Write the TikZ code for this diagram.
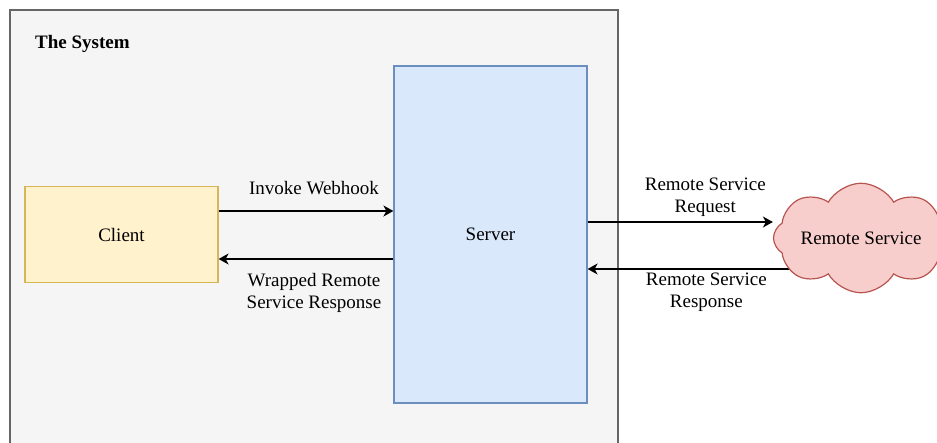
\documentclass[tikz,border=0pt]{standalone}
\usepackage{fontspec}
\setmainfont{Liberation Serif}
\usetikzlibrary{arrows.meta,shapes.symbols,backgrounds}

\definecolor{sysfill}{HTML}{F5F5F5}
\definecolor{sysline}{HTML}{666666}
\definecolor{clifill}{HTML}{FFF2CC}
\definecolor{cliline}{HTML}{D6B656}
\definecolor{srvfill}{HTML}{DAE8FC}
\definecolor{srvline}{HTML}{6C8EBF}
\definecolor{rsfill}{HTML}{F8CECC}
\definecolor{rsline}{HTML}{B85450}

\begin{document}
\begin{tikzpicture}[x=1pt,y=-1pt,
		txt/.style={font=\fontsize{19}{22}\selectfont, align=center, inner sep=0pt},
		box/.style={draw, line width=1.2pt, txt},
		flow/.style={line width=1.6pt, -{Stealth[length=10pt,width=11pt,inset=3pt]}}]
		\useasboundingbox (0,0) rectangle (937,442);
		\node[box, fill=clifill, draw=cliline, minimum width=193pt, minimum height=96pt] (cli) at (121.5,234.5) {Client};
		\node[box, fill=srvfill, draw=srvline, minimum width=193pt, minimum height=337pt] (srv) at (490.5,234.5) {Server};
		\node[box, cloud, cloud puffs=8, cloud puff arc=120, aspect=2.2, fill=rsfill, draw=rsline, minimum width=160pt, minimum height=100pt] (rs) at (861,238) {Remote Service};
		\begin{scope}[on background layer]
			\draw[fill=sysfill, draw=sysline, line width=1.6pt] (10,10) rectangle (618,470);
			\node[txt, font=\fontsize{19}{22}\selectfont\bfseries, anchor=base west] (title) at (35,48) {The System};
			\draw[flow] ([yshift=23.5pt]cli.east) -- ([yshift=23.5pt]srv.west)
				node[txt, midway, xshift=8pt, yshift=22.5pt] (lInvoke) {Invoke Webhook};
			\draw[flow] ([yshift=-24.5pt]srv.west) -- ([yshift=-24.5pt]cli.east)
				node[txt, midway, xshift=8pt, yshift=-33.5pt] (lWrapped) {Wrapped Remote\\Service Response};
			\draw[flow] ([yshift=12.5pt]srv.east) -- ([yshift=12.5pt]srv.east -| rs.west)
				node[txt, midway, xshift=25pt, yshift=25pt] (lRequest) {Remote Service\\Request};
			\draw[flow] ([yshift=-34.5pt]srv.east -| rs.center) -- ([yshift=-34.5pt]srv.east)
				node[txt, midway, xshift=-18pt, yshift=-23.5pt] (lResponse) {Remote Service\\Response};
		\end{scope}
	\end{tikzpicture}
\end{document}
